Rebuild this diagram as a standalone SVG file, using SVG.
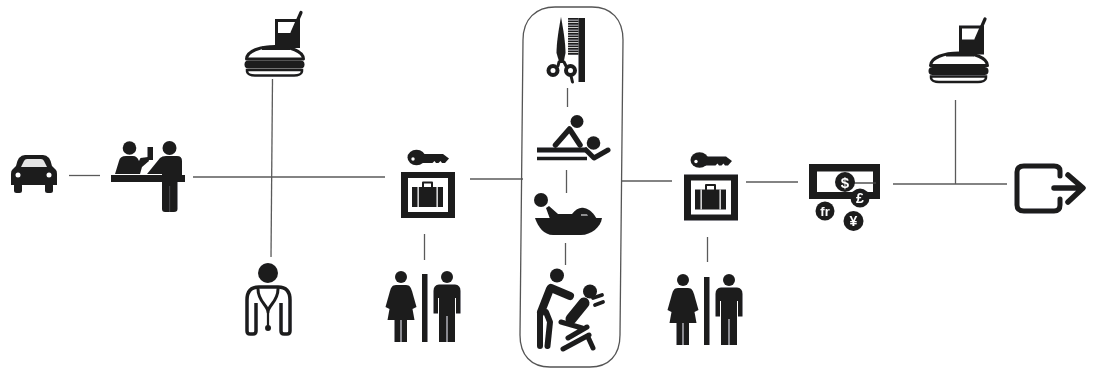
<svg xmlns="http://www.w3.org/2000/svg" xmlns:xlink="http://www.w3.org/1999/xlink" width="1093" height="370" viewBox="0 0 1093 370">
<style>
.k{fill:#1d1d1f}
.w{fill:#fff}
.s{fill:none;stroke:#1d1d1f;stroke-linecap:round;stroke-linejoin:round}
.b{fill:none;stroke:#1d1d1f;stroke-linecap:butt;stroke-linejoin:round}
.c{fill:none;stroke:#5a5a5a;stroke-width:1.300}
.t{font-family:"Liberation Sans",sans-serif;font-weight:700;fill:#fff;text-anchor:middle}
</style>
<defs>
<filter id="b" x="-5%" y="-5%" width="110%" height="110%"><feGaussianBlur stdDeviation="0.6"/></filter>
<g id="food">
<path class="k" d="M275 19H300V48H275Z"/>
<path class="w" d="M278 22H296L291.500 33H278Z"/>
<path class="s" stroke-width="3.200" d="M292 33L301 12.500"/>
<path fill="#fff" stroke="#1d1d1f" stroke-width="3" stroke-linejoin="round" d="M246.500 59C247 51 260 46.500 275 46.500C290 46.500 303 51 303.500 59Z"/>
<path class="k" d="M262 46.500H290V50H262Z"/>
<rect class="k" x="244.500" y="60.500" width="60" height="8" rx="4"/>
<path fill="#fff" stroke="#1d1d1f" stroke-width="2.500" d="M247 70H302V71C302 74 298 75.500 294 75.500H255C251 75.500 247 74 247 71Z"/>
</g>
<g id="locker">
<path class="k" d="M401 172H455V218H401Z"/>
<path class="w" d="M408 178H448V212H408Z"/>
<path class="k" d="M412 187H443V207H412Z"/>
<path class="s" stroke-width="2" d="M423 187V182.500H432V187"/>
<path class="w" d="M417.500 187h1.300v20h-1.300zM436.500 187h1.300v20h-1.300z"/>
<ellipse class="k" cx="416.500" cy="157.500" rx="9" ry="7.800"/>
<circle class="w" cx="413" cy="159" r="1.700"/>
<path class="k" d="M422 154H443L449 158.500L445 163H442L440.500 161L438.500 163H436L434.500 161L432.500 163H422Z"/>
</g>
<g id="wc">
<circle class="k" cx="401" cy="277" r="6"/>
<path class="k" d="M396 285H406C410 285 411 288 412 291L416.500 307L412.500 309L414.500 320H407V342H401.500V320H400.500V342H394.500V320H387.500L389.500 309L385.500 307L390 291C391 288 392 285 396 285Z"/>
<path class="k" d="M422 274H427.500V342H422Z"/>
<circle class="k" cx="447" cy="277" r="6"/>
<path class="k" d="M439 284.500H455Q460.500 285 460.500 291V313.500H456V298H455V342H447.500V316H446.500V342H439V298H438V313.500H433.500V291Q433.500 285 439 284.500Z"/>
</g>
</defs>
<rect width="1093" height="370" fill="#fff"/>
<g filter="url(#b)">
<g id="connectors">
<path class="c" d="M69 175.500H100"/>
<path class="c" d="M193 177H385"/>
<path class="c" d="M272.500 79L271 257"/>
<path class="c" d="M470 179H523"/>
<path class="c" d="M424.500 234V260"/>
<path class="c" d="M567.500 88V107"/>
<path class="c" d="M566.500 170V193"/>
<path class="c" d="M565.500 243V265"/>
<path class="c" d="M621 181H672"/>
<path class="c" d="M707.500 237V262"/>
<path class="c" d="M746 182H798"/>
<path class="c" d="M893 184H1007"/>
<path class="c" d="M955.500 100V184"/>
</g>
<g id="panel"><path fill="none" stroke="#555" stroke-width="1.300" d="M555 7H592C611 7 623 19 623 40L620 335C620 355 609 367 590 367H550C531 367 520 355 520 335L523 40C523 19 536 7 555 7Z"/></g>
<g id="car">
<path class="k" d="M16 166Q18 155 25 155H43Q50 155 52 166L56 170Q57 171 57 174V185H11V174Q11 171 12 170Z"/>
<path fill="#e4e4e4" d="M21 167L24 161Q25 159 27 159H41Q43 159 44 161L47 167Z"/>
<rect class="k" x="14" y="183" width="8" height="10" rx="2.500"/>
<rect class="k" x="45" y="183" width="8" height="10" rx="2.500"/>
<circle class="w" cx="18" cy="175" r="2.500"/>
<circle class="w" cx="49" cy="175" r="2.500"/>
</g>
<g id="reception">
<rect class="k" x="111" y="175" width="74" height="7"/>
<circle class="k" cx="129.500" cy="148" r="6.800"/>
<path class="k" d="M115 174L119 161Q120 156 126 156H133Q137 156 139 161L140.500 158L148 157L149 161L142 167L140 174Z"/>
<path class="k" d="M147.500 147H153V160H147.500Z"/>
<circle class="k" cx="169.500" cy="148" r="7"/>
<path class="k" d="M166 156H177Q182 156 182 161V181H177.500V209Q177.500 212 174 212H165Q162 212 162 209V174H155L147 174L160 158Q162 156 166 156Z"/>
<path fill="#555" d="M169.300 186h.8v26h-.8z"/>
</g>
<g id="food-1"><use href="#food"/></g>
<g id="doctor">
<circle class="k" cx="268" cy="273" r="10"/>
<path class="b" stroke-width="3.500" d="M256 303V331Q256 334 253 334H250Q247 334 247 331V300Q247 287 259 287H278Q290 287 290 300V331Q290 334 287 334H284Q281 334 281 331V303"/>
<path class="s" stroke-width="3" d="M258 289C258 302 268 305 268 312C268 305 278 302 278 289"/>
<path class="s" stroke-width="2.200" d="M268 312V326"/>
<circle class="k" cx="268" cy="328" r="3"/>
</g>
<g id="locker-1"><use href="#locker"/></g>
<g id="wc-1"><use href="#wc"/></g>
<g id="hair">
<path class="k" d="M561 17C563 28 565.500 42 565.500 53L563.500 63H559.500L556.500 53C556.500 42 559 28 561 17Z"/>
<circle class="s" stroke-width="4" cx="553" cy="70.500" r="4.500"/>
<circle class="s" stroke-width="4" cx="570.500" cy="70.500" r="4.500"/>
<path class="s" stroke-width="3" d="M559 62L558 66M564 62L566 66M571 76L572.500 82"/>
<path class="k" d="M578.500 18H585V82H578.500Z"/>
<path fill="none" stroke="#1d1d1f" stroke-width="10.500" stroke-dasharray="1.700 .8" d="M573.300 18V55"/>
</g>
<g id="massage-table">
<circle class="k" cx="577" cy="121.500" r="6.500"/>
<path class="s" stroke-width="5.500" d="M555.500 145L569.500 129L580 145"/>
<path class="b" stroke-width="5" d="M537 150H587"/>
<path class="b" stroke-width="3.500" d="M537 158.500H587"/>
<circle class="k" cx="593.500" cy="143" r="6.800"/>
<path class="s" stroke-width="5" d="M586 150L594 158L608 150"/>
</g>
<g id="massage-lying">
<circle class="k" cx="541" cy="200" r="7"/>
<path class="k" d="M535 218H602C601 227 591 235 581 235H553C544 235 538 227 535 218Z"/>
<path class="k" d="M546 208L549 206L558 214L572 214C576 209 580 207 584 208C590 209 594 214 597 219H550Z"/>
<path class="w" d="M581 214.500h6l1 1h-7z"/>
</g>
<g id="massage-chair">
<circle class="k" cx="557" cy="275.500" r="7"/>
<path class="s" stroke-width="8" d="M550 289L541 312"/>
<path class="s" stroke-width="6" d="M540 313V346M546 312L550 322L547.500 346"/>
<path class="s" stroke-width="8" d="M551 288L570 296"/>
<circle class="k" cx="590" cy="291.500" r="7"/>
<path class="s" stroke-width="11" d="M584 303L571 319"/>
<path class="s" stroke-width="5" d="M561 322L582 328M568 338L587 327M563 349L589 335M588 337L593 348"/>
<path class="s" stroke-width="3.800" d="M593 298L602 295M595 305L603 302"/>
</g>
<g id="locker-2"><use href="#locker" x="283" y="2.500"/></g>
<g id="wc-2"><use href="#wc" x="282" y="3"/></g>
<g id="money">
<path class="k" d="M809 164H880V199H809Z"/>
<path class="w" d="M817 171.500H873V192H817Z"/>
<path fill="none" stroke="#444" stroke-width="1.400" d="M852 183H876"/>
<circle class="k" cx="845" cy="182" r="10"/>
<text class="t" x="845" y="187.500" font-size="15">$</text>
<circle class="k" cx="860" cy="198" r="9.500"/>
<text class="t" x="860" y="203" font-size="14">£</text>
<circle class="k" cx="825" cy="211" r="9.500"/>
<text class="t" x="825" y="216" font-size="13">fr</text>
<circle class="k" cx="853.500" cy="221" r="10"/>
<text class="t" x="853.500" y="226" font-size="14">¥</text>
</g>
<g id="food-2"><use href="#food" x="684" y="6.500"/></g>
<g id="exit">
<path class="s" stroke-width="5" d="M1060 176V171Q1060 166 1054 166H1024Q1017 166 1017 172V205Q1017 211 1024 211H1054Q1060 211 1060 205V199"/>
<path class="s" stroke-width="5.500" d="M1054 188H1081M1068 175L1083 188L1068 202"/>
</g>
</g>
</svg>
